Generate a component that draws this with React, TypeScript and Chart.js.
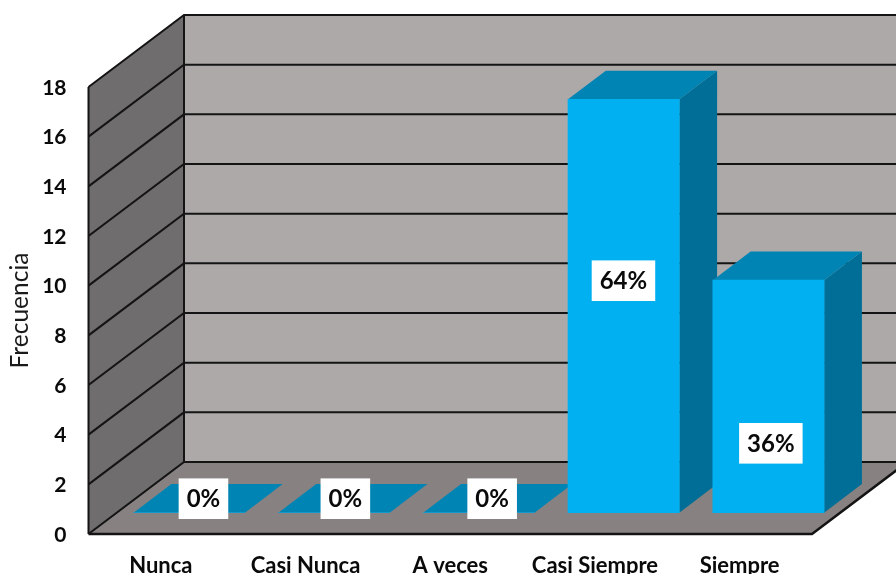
import { useEffect, useRef } from "react";
import { Chart, registerables } from "chart.js";

Chart.register(...registerables);

const categories = ["Nunca", "Casi Nunca", "A veces", "Casi Siempre", "Siempre"];
const frecuencia = [0, 0, 0, 16, 9];
const porcentajes = ["0%", "0%", "0%", "64%", "36%"];

const FONT = "Lato, Carlito, Calibri, sans-serif";
const WALL_BACK = "#ada9a8";
const WALL_LEFT = "#6f6d6d";
const FLOOR = "#878281";
const LINE = "#141414";
const BAR_FRONT = "#00b0f0";
const BAR_TOP = "#0084b4";
const BAR_SIDE = "#006e96";

// Projection offsets of the box and of each bar's depth.
const WALL_DX = 95.5;
const WALL_DY = -72;
const BAR_DX = 37.8;
const BAR_DY = -28.6;

// Hand placed data labels, relative to the foot of each bar.
const LABEL_NUDGE = [
  [14.2, -14],
  [11.3, -14],
  [13.3, -14],
  [-0.2, -232],
  [2.4, -69.4],
];

function poly(ctx: CanvasRenderingContext2D, pts: number[][], fill: string) {
  ctx.beginPath();
  pts.forEach(([x, y], i) => (i ? ctx.lineTo(x, y) : ctx.moveTo(x, y)));
  ctx.closePath();
  ctx.fillStyle = fill;
  ctx.fill();
}

const boxPlugin = {
  id: "box3d",
  beforeDatasetsDraw(chart: any) {
    const { ctx, chartArea: a, scales } = chart;
    const { left, right, top, bottom } = a;
    const bl = left + WALL_DX;
    const br = right + WALL_DX;
    ctx.save();
    poly(ctx, [[bl, top + WALL_DY], [br, top + WALL_DY], [br, bottom + WALL_DY], [bl, bottom + WALL_DY]], WALL_BACK);
    poly(ctx, [[left, top], [bl, top + WALL_DY], [bl, bottom + WALL_DY], [left, bottom]], WALL_LEFT);
    poly(ctx, [[left, bottom], [right, bottom], [br, bottom + WALL_DY], [bl, bottom + WALL_DY]], FLOOR);

    ctx.strokeStyle = LINE;
    ctx.lineWidth = 2;
    for (const t of scales.y.ticks) {
      const y = scales.y.getPixelForValue(t.value);
      ctx.beginPath();
      ctx.moveTo(left, y);
      ctx.lineTo(bl, y + WALL_DY);
      ctx.lineTo(br, y + WALL_DY);
      ctx.stroke();
    }
    ctx.beginPath();
    ctx.moveTo(left, top);
    ctx.lineTo(left, bottom);
    ctx.moveTo(bl, top + WALL_DY);
    ctx.lineTo(bl, bottom + WALL_DY);
    ctx.stroke();
    ctx.lineWidth = 2.5;
    ctx.beginPath();
    ctx.moveTo(left, bottom);
    ctx.lineTo(right, bottom);
    ctx.lineTo(br, bottom + WALL_DY);
    ctx.stroke();

    // Top and side faces of every bar; the front face is the bar element itself.
    for (const bar of chart.getDatasetMeta(0).data) {
      const p = bar.getProps(["x", "y", "base", "width"], true);
      const l = p.x - p.width / 2;
      const r = p.x + p.width / 2;
      poly(ctx, [[r, p.y], [r + BAR_DX, p.y + BAR_DY], [r + BAR_DX, p.base + BAR_DY], [r, p.base]], BAR_SIDE);
      poly(ctx, [[l, p.y], [r, p.y], [r + BAR_DX, p.y + BAR_DY], [l + BAR_DX, p.y + BAR_DY]], BAR_TOP);
    }
    ctx.restore();
  },
  afterDatasetsDraw(chart: any) {
    const { ctx } = chart;
    ctx.save();
    ctx.font = `bold 24px ${FONT}`;
    ctx.textAlign = "center";
    ctx.textBaseline = "middle";
    chart.getDatasetMeta(0).data.forEach((bar: any, i: number) => {
      const p = bar.getProps(["x", "base"], true);
      const cx = p.x + LABEL_NUDGE[i][0];
      const cy = p.base + LABEL_NUDGE[i][1];
      const w = ctx.measureText(porcentajes[i]).width + 16;
      ctx.fillStyle = "#ffffff";
      ctx.fillRect(cx - w / 2, cy - 20.3, w, 40.6);
      ctx.fillStyle = "#0a0a0a";
      ctx.fillText(porcentajes[i], cx, cy + 1);
    });
    ctx.restore();
  },
};

export default function App() {
  const ref = useRef<HTMLCanvasElement>(null);

  useEffect(() => {
    const chart = new Chart(ref.current!, {
      type: "bar",
      data: {
        datasets: [
          {
            data: frecuencia.map((v, i) => ({ x: i, y: v })),
            backgroundColor: BAR_FRONT,
            borderWidth: 0,
            barThickness: 111.3,
            clip: false,
            xAxisID: "xBars",
            yAxisID: "yBars",
          } as any,
        ],
      },
      options: {
        responsive: false,
        animation: false,
        layout: { padding: { left: 0, right: 84, top: 87, bottom: 0 } },
        plugins: { legend: { display: false }, tooltip: { enabled: false } },
        scales: {
          x: {
            type: "category",
            labels: categories,
            position: "bottom",
            offset: true,
            grid: { display: false, drawTicks: false },
            border: { display: false },
            ticks: {
              color: "#0a0a0a",
              padding: 19,
              maxRotation: 0,
              autoSkip: false,
              font: { family: FONT, size: 22, weight: "bold" },
            },
            afterFit(s: any) {
              s.height = 40;
            },
          },
          y: {
            type: "linear",
            min: 0,
            max: 18,
            position: "left",
            grid: { display: false, drawTicks: false },
            border: { display: false },
            ticks: {
              stepSize: 2,
              color: "#0a0a0a",
              padding: 22,
              labelOffset: 1,
              font: { family: FONT, size: 21, weight: "bold" },
            },
            title: {
              display: true,
              text: "Frecuencia",
              color: "#1a1a1a",
              padding: { top: 5, bottom: 0 },
              font: { family: FONT, size: 24.5, weight: "normal" },
            },
            afterFit(s: any) {
              s.width = 88.5;
            },
          },
          // Bars stand partway into the floor, so they use their own projected scales.
          xBars: {
            type: "linear",
            display: false,
            offset: false,
            min: -0.6958,
            max: 4.3007,
            grid: { offset: false },
          },
          yBars: { type: "linear", display: false, min: -0.824, max: 16.474 },
        },
      } as any,
      plugins: [boxPlugin],
    });
    return () => chart.destroy();
  }, []);

  return (
    <canvas
      ref={ref}
      width={896}
      height={574}
      style={{ position: "absolute", left: 0, top: 0, display: "block" }}
    />
  );
}
